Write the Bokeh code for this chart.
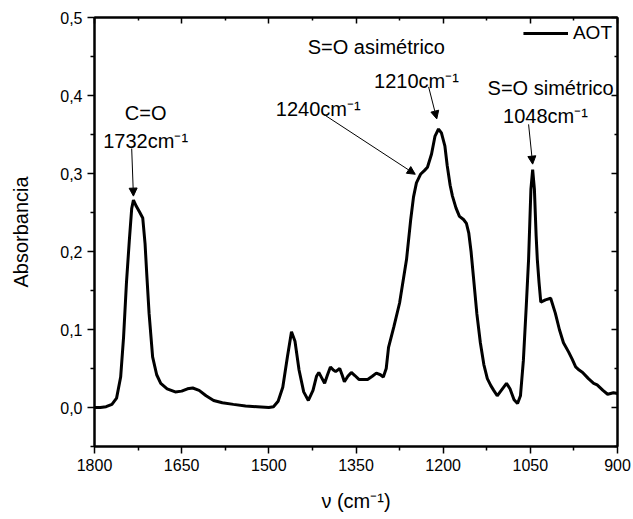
from bokeh.plotting import figure
from bokeh.models import (Range1d, FixedTicker, LinearAxis, Label, Arrow, NormalHead,
                          Legend, LegendItem, CustomLabelingPolicy)
from bokeh.embed import file_html
from bokeh.resources import INLINE

# ---- data ----
wavenumber = [1800, 1790, 1780, 1770, 1762, 1755, 1750, 1745, 1740, 1736, 1733, 1728, 1722, 1717,
              1713, 1710, 1706, 1700, 1693, 1686, 1675, 1661, 1650, 1640, 1631, 1620, 1608, 1595,
              1580, 1561, 1540, 1520, 1500, 1492, 1484, 1476, 1468, 1461, 1455, 1448, 1440, 1432,
              1424, 1418, 1414, 1409, 1404, 1399, 1394, 1389, 1385, 1378, 1374, 1370, 1364, 1358,
              1352, 1345, 1330, 1322, 1315, 1308, 1303, 1298, 1294, 1285, 1275, 1263, 1256, 1251,
              1246, 1239, 1232, 1227, 1220, 1214, 1208, 1203, 1197, 1193, 1188, 1184, 1178, 1172,
              1165, 1160, 1156, 1152, 1148, 1142, 1136, 1130, 1124, 1118, 1113, 1107, 1100, 1091,
              1085, 1078, 1072, 1067, 1062, 1057, 1053, 1049, 1046, 1043, 1040, 1038, 1035, 1032,
              1024, 1015, 1007, 1000, 993, 984, 978, 972, 966, 960, 950, 941, 935, 925, 917, 912,
              907, 900]
absorbance = [0.000, 0.000, 0.001, 0.004, 0.012, 0.039, 0.090, 0.160, 0.215, 0.255, 0.266, 0.258,
              0.250, 0.243, 0.210, 0.170, 0.120, 0.065, 0.042, 0.031, 0.024, 0.020, 0.021, 0.024,
              0.025, 0.022, 0.015, 0.009, 0.006, 0.004, 0.002, 0.001, 0.000, 0.001, 0.008, 0.026,
              0.065, 0.097, 0.085, 0.048, 0.020, 0.009, 0.022, 0.040, 0.045, 0.038, 0.031, 0.042,
              0.052, 0.048, 0.046, 0.050, 0.042, 0.033, 0.040, 0.045, 0.041, 0.036, 0.036, 0.040,
              0.044, 0.042, 0.039, 0.050, 0.077, 0.103, 0.134, 0.190, 0.240, 0.270, 0.288, 0.299,
              0.304, 0.308, 0.325, 0.348, 0.357, 0.352, 0.335, 0.310, 0.285, 0.271, 0.256, 0.245,
              0.241, 0.236, 0.224, 0.200, 0.168, 0.120, 0.083, 0.055, 0.037, 0.028, 0.022, 0.015,
              0.022, 0.031, 0.024, 0.010, 0.005, 0.015, 0.060, 0.130, 0.190, 0.280, 0.305, 0.280,
              0.220, 0.190, 0.160, 0.135, 0.138, 0.140, 0.121, 0.100, 0.083, 0.071, 0.062, 0.052,
              0.048, 0.045, 0.037, 0.031, 0.029, 0.022, 0.017, 0.018, 0.019, 0.018]

x_ticks = [1800, 1650, 1500, 1350, 1200, 1050, 900]
x_minor = [1725, 1575, 1425, 1275, 1125, 975]
y_ticks = [0.0, 0.1, 0.2, 0.3, 0.4, 0.5]
y_minor = [-0.05, 0.05, 0.15, 0.25, 0.35, 0.45]
y_tick_labels = ["0,0", "0,1", "0,2", "0,3", "0,4", "0,5"]

# annotations: (text, x, y)
label_texts = ["C=O", "1732cm⁻¹", "S=O asimétrico", "1210cm⁻¹", "1240cm⁻¹", "S=O simétrico", "1048cm⁻¹"]
label_x = [1712, 1712, 1315, 1246, 1415, 1015, 1024]
label_y = [0.377, 0.342, 0.462, 0.419, 0.383, 0.409, 0.374]
# arrows: start -> end
arrow_x0 = [1736, 1225, 1406, 1053]
arrow_y0 = [0.332, 0.411, 0.376, 0.363]
arrow_x1 = [1733, 1211, 1248, 1046]
arrow_y1 = [0.271, 0.370, 0.299, 0.312]

FONT = "Liberation Sans"

p = figure(width=633, height=519, output_backend="svg", toolbar_location=None,
           x_range=Range1d(1800, 900), y_range=Range1d(-0.05, 0.5),
           min_border_left=94, min_border_right=16, min_border_top=17, min_border_bottom=73)
p.background_fill_color = "white"
p.border_fill_color = "white"
p.grid.visible = False
p.outline_line_color = "black"
p.outline_line_width = 2

r = p.line(wavenumber, absorbance, line_color="black", line_width=3)

xa = p.xaxis[0]
xa.ticker = FixedTicker(ticks=x_ticks, minor_ticks=x_minor)
ya = p.yaxis[0]
ya.ticker = FixedTicker(ticks=y_ticks, minor_ticks=y_minor)
ya.major_label_overrides = {t: l for t, l in zip(y_ticks, y_tick_labels)}

for ax in (xa, ya):
    ax.axis_line_width = 2
    ax.major_tick_line_width = 1.5
    ax.minor_tick_line_width = 1.5
    ax.major_tick_out = 7
    ax.major_tick_in = 0
    ax.minor_tick_out = 4
    ax.minor_tick_in = 0
    ax.major_label_text_font = FONT
    ax.major_label_text_font_size = "16px"
    ax.major_label_text_color = "black"
    ax.axis_label_text_font = FONT
    ax.axis_label_text_font_size = "20px"
    ax.axis_label_text_font_style = "normal"
    ax.axis_label_text_color = "black"
    ax.major_label_standoff = 5

xa.axis_label = "ν (cm⁻¹)"
xa.axis_label_standoff = 16
ya.axis_label = "Absorbancia"
ya.axis_label_standoff = 25

hide_labels = CustomLabelingPolicy(code="""
try {
  for (const i of Array.from(indices)) indices.unset(i)
} catch (e) {}
return indices
""")

# mirror axes (top/right) with inward ticks, no labels
top = LinearAxis(ticker=FixedTicker(ticks=x_ticks, minor_ticks=x_minor), major_label_policy=hide_labels)
right = LinearAxis(ticker=FixedTicker(ticks=y_ticks, minor_ticks=y_minor), major_label_policy=hide_labels)
for ax in (top, right):
    ax.major_label_text_font_size = "1px"
    ax.axis_line_width = 2
    ax.major_tick_in = 6
    ax.major_tick_out = 0
    ax.minor_tick_in = 3
    ax.minor_tick_out = 0
    ax.major_tick_line_width = 1.5
    ax.minor_tick_line_width = 1.5
    ax.major_label_standoff = 0
p.add_layout(top, "above")
p.add_layout(right, "right")

for t, x, y in zip(label_texts, label_x, label_y):
    p.add_layout(Label(x=x, y=y, text=t, text_align="center", text_baseline="middle",
                       text_font=FONT, text_font_size="20px", text_color="black"))

for x0, y0, x1, y1 in zip(arrow_x0, arrow_y0, arrow_x1, arrow_y1):
    p.add_layout(Arrow(end=NormalHead(size=8, fill_color="black", line_color="black", line_width=1),
                       x_start=x0, y_start=y0, x_end=x1, y_end=y1,
                       line_color="black", line_width=1))

legend = Legend(items=[LegendItem(label="AOT", renderers=[r])], location="top_right",
                border_line_color=None, background_fill_alpha=0, margin=5, padding=2,
                glyph_width=45, label_standoff=5, label_text_font=FONT,
                label_text_font_size="19px", label_text_color="black")
p.add_layout(legend)

open("out.html", "w").write(file_html(p, INLINE))
